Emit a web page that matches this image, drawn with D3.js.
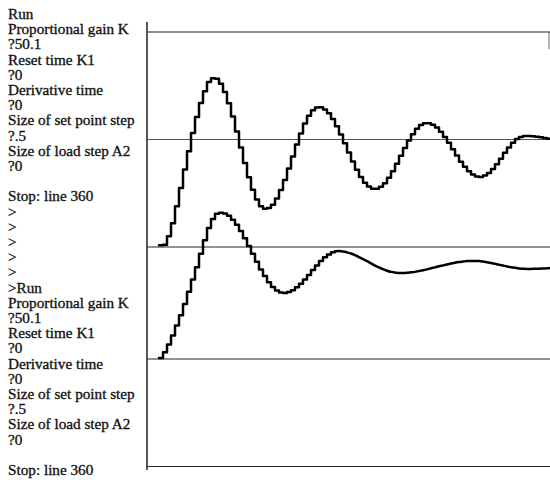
<!DOCTYPE html>
<html>
<head>
<meta charset="utf-8">
<script src="https://cdn.jsdelivr.net/npm/d3@7"></script>
<style>
  html, body { margin: 0; padding: 0; background: #fff; }
  svg { display: block; }
  .prompt text { font-family: "Liberation Serif", "Times New Roman", Times, "DejaVu Serif", serif; }
</style>
</head>
<body>
<div id="chart"></div>
<script>
// Terminal transcript printed down the left side
const promptLines = [
    "Run", "Proportional gain K", "?50.1", "Reset time K1", "?0",
    "Derivative time", "?0", "Size of set point step", "?.5",
    "Size of load step A2", "?0", "", "Stop: line 360",
    ">", ">", ">", ">", ">",
    ">Run", "Proportional gain K", "?50.1", "Reset time K1", "?0",
    "Derivative time", "?0", "Size of set point step", "?.5",
    "Size of load step A2", "?0", "", "Stop: line 360"
];

// Upper trace: controlled variable, one value per time step
const upperValues = [
    0.008, 0.01, 0.05, 0.11, 0.19, 0.275, 0.36, 0.445, 0.53, 0.605, 0.67, 0.725, 0.768, 0.785, 0.783,
    0.759, 0.721, 0.669, 0.607, 0.537, 0.463, 0.391, 0.324, 0.266, 0.221, 0.19, 0.178,
    0.181, 0.197, 0.226, 0.265, 0.312, 0.365, 0.421, 0.477, 0.528, 0.574, 0.61, 0.636, 0.649,
    0.65, 0.64, 0.622, 0.595, 0.562, 0.523, 0.482, 0.439, 0.398, 0.359, 0.326, 0.299, 0.281, 0.271,
    0.271, 0.28, 0.297, 0.322, 0.352, 0.387, 0.424, 0.46, 0.495, 0.525, 0.55, 0.567, 0.576,
    0.576, 0.569, 0.556, 0.536, 0.512, 0.485, 0.455, 0.426, 0.397, 0.373, 0.352, 0.337, 0.328,
    0.326, 0.332, 0.344, 0.363, 0.385, 0.411, 0.438, 0.463, 0.485, 0.502, 0.512, 0.516,
    0.516, 0.515, 0.513, 0.51, 0.507, 0.503, 0.499
];

// Lower trace: controller output, one value per time step
const lowerValues = [
    0.005, 0.03, 0.065, 0.105, 0.15, 0.195, 0.245, 0.3, 0.355, 0.41, 0.47, 0.53, 0.585, 0.625, 0.648, 0.653,
    0.65, 0.639, 0.622, 0.599, 0.571, 0.539, 0.505, 0.47, 0.434, 0.4, 0.37, 0.343, 0.321, 0.306, 0.297,
    0.295, 0.299, 0.307, 0.32, 0.336, 0.355, 0.375, 0.397, 0.417, 0.437, 0.454, 0.467, 0.477, 0.481,
    0.482, 0.48, 0.476, 0.471, 0.464, 0.455, 0.446, 0.437, 0.427, 0.417, 0.409, 0.401, 0.394, 0.389, 0.386, 0.384,
    0.384, 0.385, 0.387, 0.389, 0.393, 0.396, 0.4, 0.405, 0.409, 0.414, 0.418, 0.422, 0.426, 0.43, 0.433, 0.435, 0.437, 0.437,
    0.437, 0.437, 0.435, 0.432, 0.429, 0.425, 0.421, 0.417, 0.413, 0.41, 0.407, 0.404, 0.403, 0.402,
    0.402, 0.403, 0.403, 0.404, 0.405, 0.406
];

// the lower trace stops showing its steps after this sample (the curve is smooth from here)
const lowerStepEnd = 44;

// Horizontal reference lines (top frame, set point, zero) on each trace's scale
const upperRefs = [1.0, 0.5, 0];
const lowerRefs = [0, -0.48];

const W = 550, H = 488;
const svg = d3.select("#chart").append("svg")
    .attr("width", W).attr("height", H)
    .attr("viewBox", `0 0 ${W} ${H}`);

svg.append("rect").attr("width", W).attr("height", H).attr("fill", "#fff");

// text column: the printout's lines are tightly packed, so the type is
// set a bit smaller and stretched sideways to keep the printed width
svg.append("g")
    .attr("class", "prompt")
    .attr("transform", "translate(8,0) scale(1.11,1)")
    .attr("font-size", 13.7)
    .attr("fill", "#111")
    .attr("stroke", "#111")
    .attr("stroke-width", 0.3)
  .selectAll("text")
  .data(promptLines)
  .join("text")
    .attr("x", 0)
    .attr("y", (d, i) => 19 + i * 15.2)
    .text(d => d);

const x = d3.scaleLinear().domain([-3, 98]).range([147, 551]);
const yUp = d3.scaleLinear().domain([0, 1]).range([247, 32]);
const yLo = d3.scaleLinear().domain([0, 0.5]).range([359, 247]);

const plot = svg.append("g");

// left axis line
plot.append("line")
    .attr("x1", x(-3)).attr("x2", x(-3))
    .attr("y1", 22).attr("y2", 470)
    .attr("stroke", "#111").attr("stroke-width", 1.4);

// short right frame tick under the top line
plot.append("line")
    .attr("x1", 549).attr("x2", 549)
    .attr("y1", yUp(1)).attr("y2", yUp(0.92))
    .attr("stroke", "#666").attr("stroke-width", 1);

plot.selectAll(".ref-up")
  .data(upperRefs)
  .join("line")
    .attr("class", "ref-up")
    .attr("x1", x(-3)).attr("x2", W)
    .attr("y1", d => yUp(d)).attr("y2", d => yUp(d))
    .attr("stroke", d => d === 0.5 ? "#555" : "#222")
    .attr("stroke-width", 1.2);

plot.selectAll(".ref-lo")
  .data(lowerRefs)
  .join("line")
    .attr("class", "ref-lo")
    .attr("x1", x(-3)).attr("x2", W)
    .attr("y1", d => yLo(d)).attr("y2", d => yLo(d))
    .attr("stroke", "#222")
    .attr("stroke-width", 1.2);

const upperLine = d3.line()
    .x(d => x(d.t))
    .y(d => yUp(d.v))
    .curve(d3.curveStepAfter);

const lowerStep = d3.line()
    .x(d => x(d.t))
    .y(d => yLo(d.v))
    .curve(d3.curveStepAfter);

const lowerSmooth = d3.line()
    .x(d => x(d.t))
    .y(d => yLo(d.v))
    .curve(d3.curveMonotoneX);

const upperPts = upperValues.map((v, t) => ({t, v}));
const lowerPts = lowerValues.map((v, t) => ({t, v}));

function trace(data, gen) {
    plot.append("path")
        .datum(data)
        .attr("d", gen)
        .attr("fill", "none")
        .attr("stroke", "#000")
        .attr("stroke-width", 2.5)
        .attr("stroke-linejoin", "round")
        .attr("stroke-linecap", "round");
}

trace(upperPts, upperLine);
trace(lowerPts.slice(0, lowerStepEnd + 1), lowerStep);
trace(lowerPts.slice(lowerStepEnd), lowerSmooth);
</script>
</body>
</html>
